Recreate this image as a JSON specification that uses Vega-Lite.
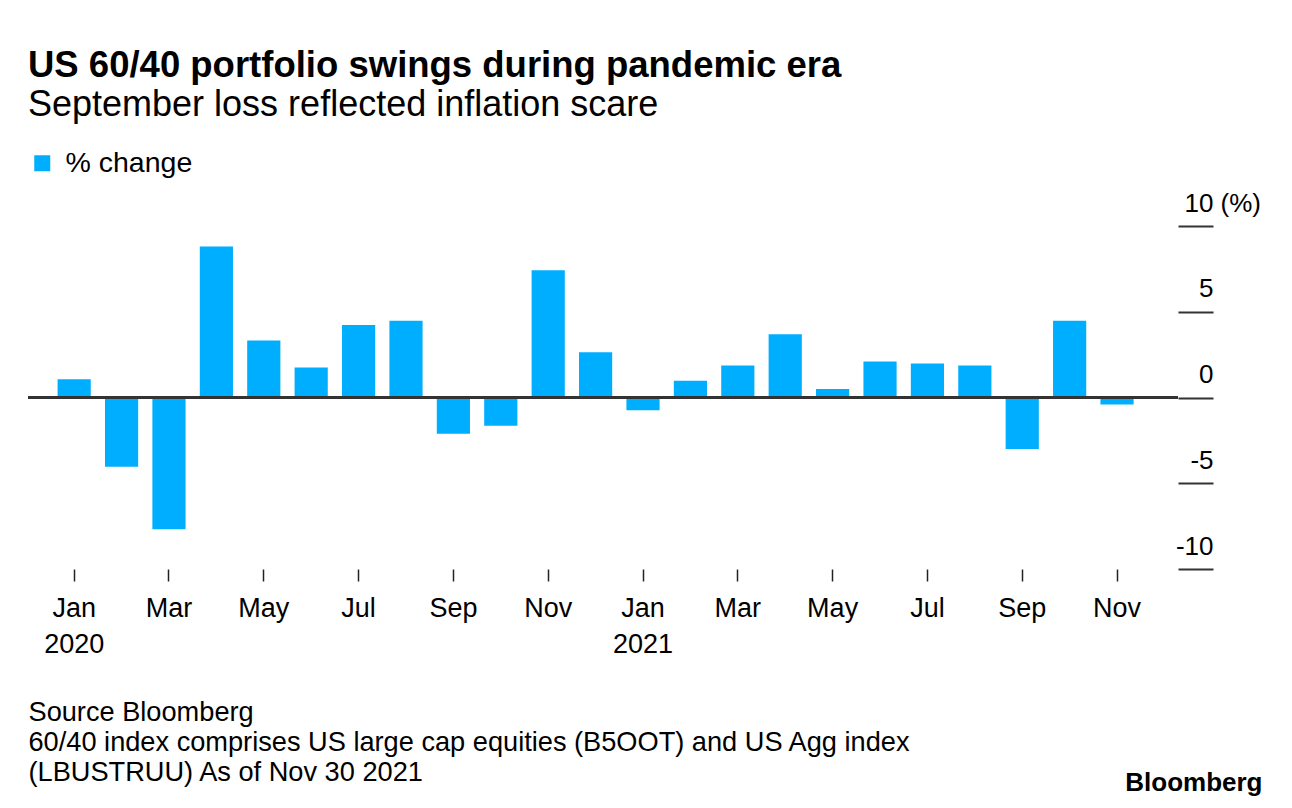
{
  "$schema": "https://vega.github.io/schema/vega-lite/v6.json",
  "width": 1150,
  "height": 343,
  "autosize": {"type": "none"},
  "padding": {"left": 28, "top": 226, "right": 114, "bottom": 239},
  "background": "white",
  "config": {
    "view": {"stroke": null},
    "font": "Liberation Sans",
    "title": {"font": "Liberation Sans", "color": "black", "subtitleColor": "black", "subtitleFont": "Liberation Sans"}
  },
  "title": {
    "text": "US 60/40 portfolio swings during pandemic era",
    "subtitle": "September loss reflected inflation scare",
    "anchor": "start",
    "frame": "group",
    "fontSize": 36.5,
    "fontWeight": "bold",
    "subtitleFontSize": 36,
    "subtitleFontWeight": "normal",
    "subtitlePadding": 4,
    "offset": 26
  },
  "data": {
    "values": [
      {"m": "Jan 2020", "v": 1.07},
      {"m": "Feb 2020", "v": -4.04},
      {"m": "Mar 2020", "v": -7.68},
      {"m": "Apr 2020", "v": 8.8},
      {"m": "May 2020", "v": 3.32},
      {"m": "Jun 2020", "v": 1.75},
      {"m": "Jul 2020", "v": 4.23},
      {"m": "Aug 2020", "v": 4.47},
      {"m": "Sep 2020", "v": -2.12},
      {"m": "Oct 2020", "v": -1.65},
      {"m": "Nov 2020", "v": 7.42},
      {"m": "Dec 2020", "v": 2.64},
      {"m": "Jan 2021", "v": -0.74},
      {"m": "Feb 2021", "v": 0.97},
      {"m": "Mar 2021", "v": 1.86},
      {"m": "Apr 2021", "v": 3.69},
      {"m": "May 2021", "v": 0.5},
      {"m": "Jun 2021", "v": 2.1},
      {"m": "Jul 2021", "v": 1.98},
      {"m": "Aug 2021", "v": 1.86},
      {"m": "Sep 2021", "v": -3.01},
      {"m": "Oct 2021", "v": 4.47},
      {"m": "Nov 2021", "v": -0.41}
    ]
  },
  "layer": [
    {
      "mark": {"type": "bar", "color": "#00aeff"},
      "encoding": {
        "x": {
          "field": "m",
          "type": "ordinal",
          "sort": null,
          "scale": {"type": "band", "paddingInner": 0.3, "paddingOuter": 0.78, "align": 0.4},
          "axis": {
            "values": ["Jan 2020", "Mar 2020", "May 2020", "Jul 2020", "Sep 2020", "Nov 2020", "Jan 2021", "Mar 2021", "May 2021", "Jul 2021", "Sep 2021", "Nov 2021"],
            "labelExpr": "substring(datum.value,0,3) == 'Jan' ? [substring(datum.value,0,3), substring(datum.value,4)] : substring(datum.value,0,3)",
            "labelAngle": 0,
            "labelFontSize": 27,
            "labelColor": "black",
            "labelFont": "Liberation Sans",
            "labelPadding": 14,
            "labelLineHeight": 36,
            "labelBaseline": "top",
            "domain": false,
            "grid": false,
            "ticks": true,
            "tickSize": 12,
            "tickWidth": 1.5,
            "tickColor": "#222",
            "title": ["Source Bloomberg", "60/40 index comprises US large cap equities (B5OOT) and US Agg index", "(LBUSTRUU) As of Nov 30 2021"],
            "titleFont": "Liberation Sans",
            "titleFontSize": 27.2,
            "titleFontWeight": "normal",
            "titleColor": "black",
            "titleAlign": "left",
            "titleAnchor": "start",
            "titleBaseline": "alphabetic",
            "titleLineHeight": 30,
            "titleX": 0,
            "titleY": 151
          }
        },
        "y": {
          "field": "v",
          "type": "quantitative",
          "scale": {"domain": [-10, 10], "nice": false},
          "axis": {
            "orient": "right",
            "values": [-10, -5, 0, 5, 10],
            "labelExpr": "datum.value < 0 ? '-' + abs(datum.value) : '' + datum.value",
            "domain": false,
            "grid": false,
            "tickSize": 35,
            "tickWidth": 2,
            "tickColor": "#333",
            "labelAlign": "right",
            "labelBaseline": "alphabetic",
            "labelPadding": 0,
            "labelOffset": -15,
            "labelFontSize": 26,
            "labelColor": "black",
            "labelFont": "Liberation Sans",
            "title": "(%)",
            "titleAngle": 0,
            "titleAlign": "left",
            "titleBaseline": "alphabetic",
            "titleX": 42,
            "titleY": -15,
            "titleFont": "Liberation Sans",
            "titleFontSize": 26,
            "titleFontWeight": "normal",
            "titleColor": "black"
          }
        },
        "color": {
          "datum": "% change",
          "type": "nominal",
          "scale": {"range": ["#00aeff"]},
          "legend": {
            "orient": "none",
            "legendX": 0,
            "legendY": -77,
            "title": null,
            "symbolType": "square",
            "symbolSize": 256,
            "symbolStrokeWidth": 0,
            "labelFontSize": 28.5,
            "labelFont": "Liberation Sans",
            "labelColor": "black",
            "labelOffset": 9
          }
        }
      }
    },
    {
      "mark": {"type": "rule", "color": "#333", "strokeWidth": 2},
      "encoding": {
        "y": {
          "datum": 0,
          "type": "quantitative",
          "axis": {
            "orient": "left",
            "labels": false,
            "ticks": false,
            "domain": false,
            "grid": false,
            "title": "Bloomberg",
            "titleAngle": 0,
            "titleAlign": "right",
            "titleBaseline": "alphabetic",
            "titleX": 1234,
            "titleY": 564,
            "titleFont": "Liberation Sans",
            "titleFontSize": 26,
            "titleFontWeight": "bold",
            "titleColor": "black"
          }
        }
      }
    }
  ],
  "resolve": {"axis": {"y": "independent"}}
}
